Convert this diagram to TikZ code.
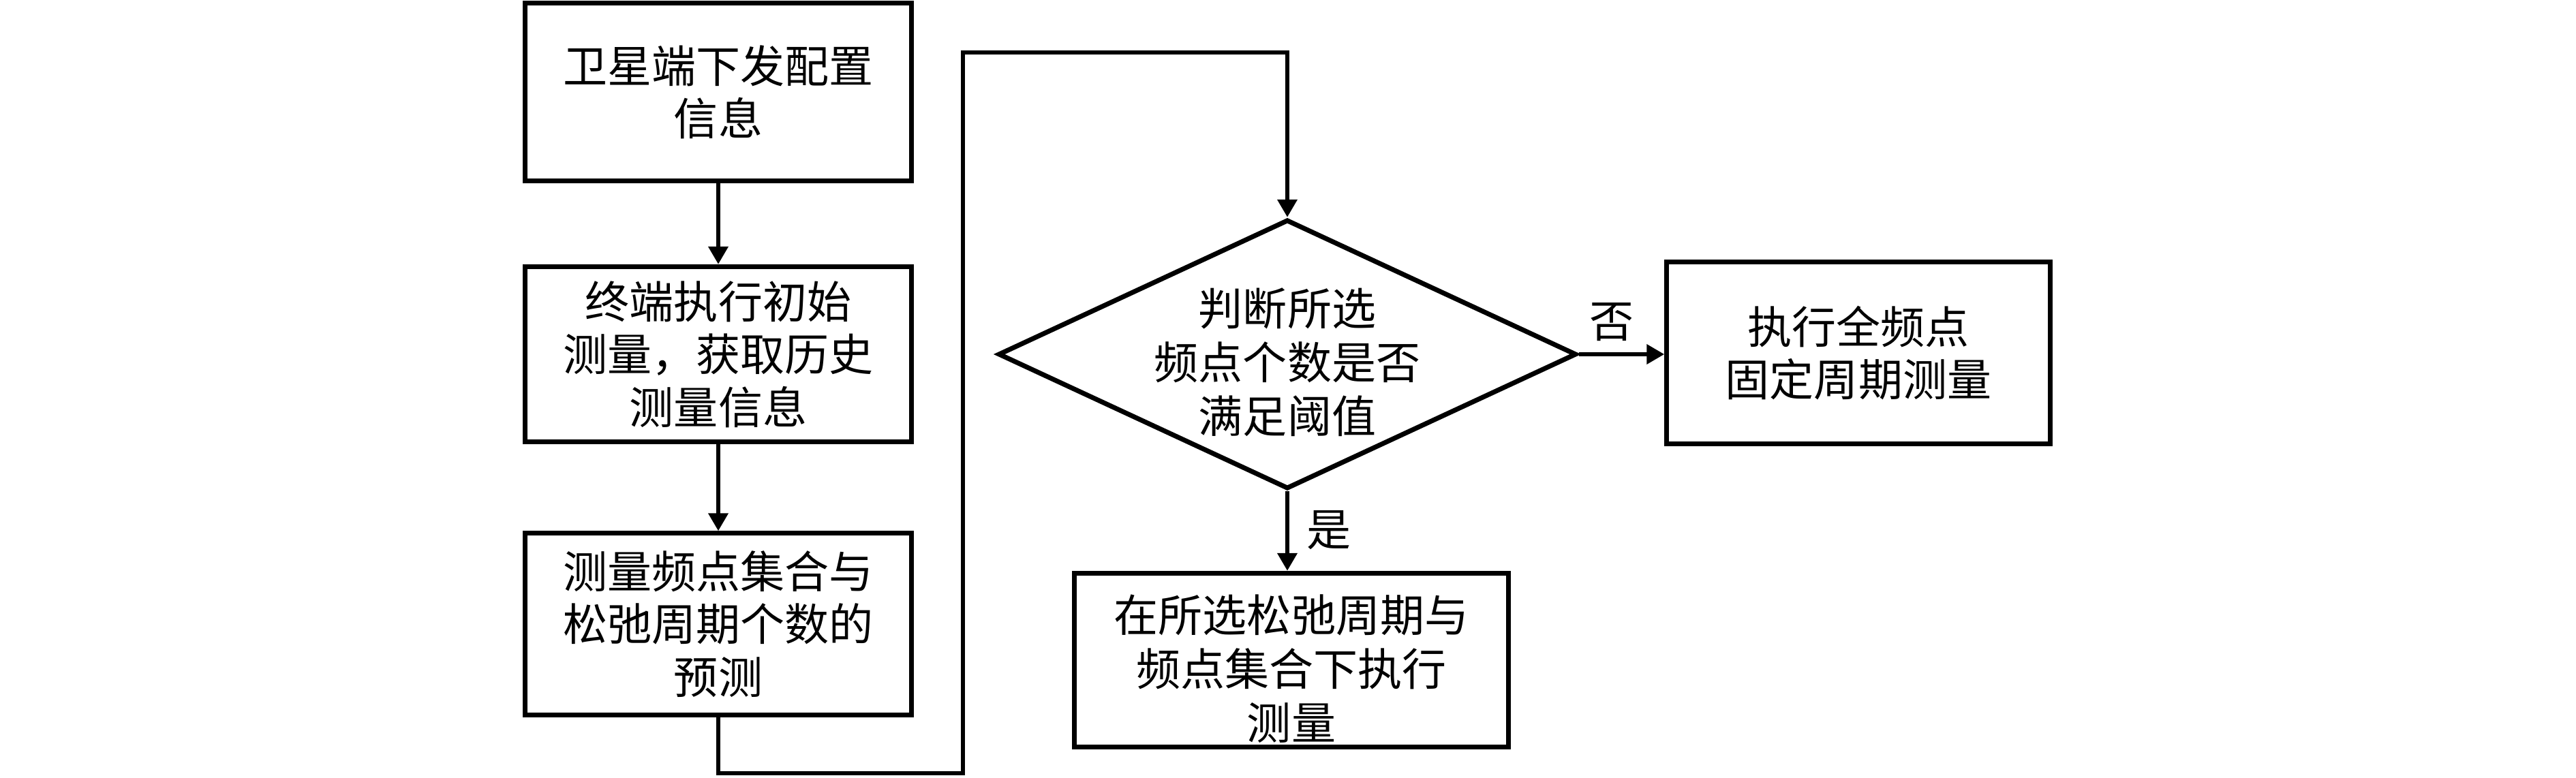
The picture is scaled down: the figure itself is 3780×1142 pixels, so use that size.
\documentclass[tikz,border=0pt]{standalone}
\usepackage{fontspec}
\setmainfont{Noto Sans CJK SC}
\usetikzlibrary{arrows.meta,shapes.geometric}
\tikzset{
  x=0.01cm, y=-0.01cm,
  box/.style={draw, line width=2pt, inner sep=0pt, align=center,
    font=\fontsize{18.5}{22}\selectfont},
  decision/.style={draw, diamond, line width=2pt, inner sep=0pt,
    minimum width=8.48cm, minimum height=3.95cm},
  txt/.style={align=center, inner sep=0pt, font=\fontsize{18.5}{22.5}\selectfont},
  lbl/.style={inner sep=0pt, font=\fontsize{18.5}{22}\selectfont},
  arr/.style={line width=1.9pt, -{Triangle[width=0.28cm,length=0.26cm]}},
}
\begin{document}
\begin{tikzpicture}
\useasboundingbox (0,0) rectangle (3780,1142);
\node[box, minimum width=5.66cm, minimum height=2.60cm] (b1) at (1054,135) {卫星端下发配置\\信息};
\node[box, minimum width=5.66cm, minimum height=2.57cm] (b2) at (1054,520) {终端执行初始\\测量，获取历史\\测量信息};
\node[box, minimum width=5.66cm, minimum height=2.66cm] (b3) at (1054,916) {测量频点集合与\\松弛周期个数的\\预测};
\node[decision] (dec) at (1889,520) {};
\node[txt] (dect) at (1889,532) {判断所选\\频点个数是否\\满足阈值};
\node[box, minimum width=5.62cm, minimum height=2.66cm] (b4) at (2727,518) {执行全频点\\固定周期测量};
\node[box, minimum width=6.36cm, minimum height=2.55cm] (b5) at (1895,969) {};
\node[txt] (b5t) at (1895,982) {在所选松弛周期与\\频点集合下执行\\测量};
\node[lbl] (no) at (2365,473) {否};
\node[lbl] (yes) at (1950,778) {是};
\coordinate (c1) at (1413,1135);
\coordinate (c2) at (1413,77);
\coordinate (c3) at (1889,77);
\draw[arr] (b1) -- (b2);
\draw[arr] (b2) -- (b3);
\draw[arr] (b3.south) |- (c1) -- (c2) -- (c3) -- (dec.north);
\draw[arr] (dec.east) -- (dec.east -| b4.west);
\draw[arr] (dec.south) -- (dec.south |- b5.north);
\end{tikzpicture}
\end{document}
